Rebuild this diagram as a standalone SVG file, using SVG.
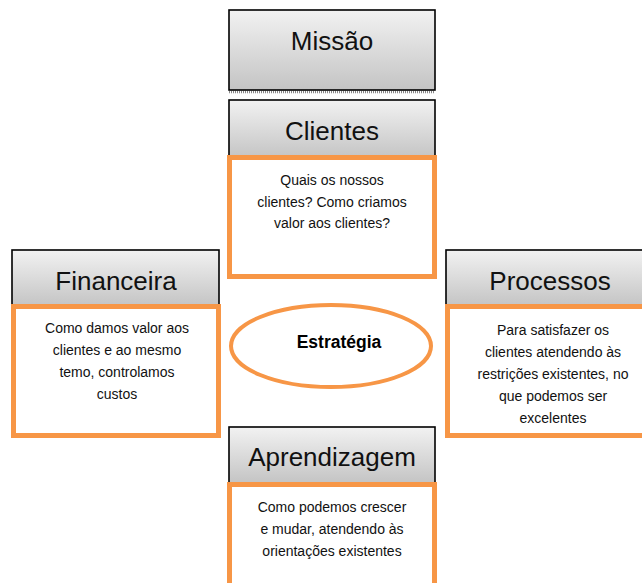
<svg xmlns="http://www.w3.org/2000/svg" width="642" height="583" viewBox="0 0 642 583">
<defs>
<linearGradient id="hg" x1="0" y1="0" x2="0" y2="1">
<stop offset="0" stop-color="#f2f2f2"/>
<stop offset="1" stop-color="#c4c4c4"/>
</linearGradient>
<style>
.hdr{fill:url(#hg);stroke:#000;stroke-width:1.6}
.box{fill:#fff;stroke:#F79646;stroke-width:5}
.ht{font-family:"Liberation Sans",Arial,sans-serif;font-size:26px;fill:#111;text-anchor:middle}
.bt{font-family:"Liberation Sans",Arial,sans-serif;font-size:14px;fill:#111;text-anchor:middle}
.st{font-family:"Liberation Sans",Arial,sans-serif;font-size:17.5px;font-weight:bold;fill:#000;text-anchor:middle}
</style>
</defs>
<rect width="642" height="583" fill="#fff"/>
<g id="missao">
<line x1="229" y1="92" x2="435" y2="92" stroke="#888" stroke-width="2.5" stroke-dasharray="1 1"/>
<rect class="hdr" x="229" y="10" width="206" height="80"/>
<text class="ht" x="332" y="50">Missão</text>
</g>
<g id="clientes">
<rect class="hdr" x="229" y="100" width="206" height="58"/>
<text class="ht" x="332" y="140">Clientes</text>
<rect class="box" x="229.5" y="157.5" width="205" height="119"/>
<text class="bt" x="332" y="185">Quais os nossos</text>
<text class="bt" x="332" y="207">clientes? Como criamos</text>
<text class="bt" x="332" y="228">valor aos clientes?</text>
</g>
<g id="financeira">
<rect class="hdr" x="12" y="250" width="207" height="56"/>
<text class="ht" x="116" y="290">Financeira</text>
<rect class="box" x="13.5" y="306.5" width="205" height="129"/>
<text class="bt" x="117" y="333">Como damos valor aos</text>
<text class="bt" x="117" y="355">clientes e ao mesmo</text>
<text class="bt" x="117" y="377">temo, controlamos</text>
<text class="bt" x="117" y="399">custos</text>
</g>
<g id="processos">
<rect class="hdr" x="446" y="250" width="200" height="56"/>
<text class="ht" x="550" y="290">Processos</text>
<rect class="box" x="447.5" y="306.5" width="198" height="129"/>
<text class="bt" x="553" y="335">Para satisfazer os</text>
<text class="bt" x="553" y="357">clientes atendendo às</text>
<text class="bt" x="553" y="379">restrições existentes, no</text>
<text class="bt" x="553" y="401">que podemos ser</text>
<text class="bt" x="553" y="423">excelentes</text>
</g>
<g id="aprendizagem">
<rect class="hdr" x="229" y="427" width="206" height="56"/>
<text class="ht" x="332" y="466">Aprendizagem</text>
<rect class="box" x="229.5" y="484.5" width="205" height="110"/>
<text class="bt" x="332" y="512">Como podemos crescer</text>
<text class="bt" x="332" y="534">e mudar, atendendo às</text>
<text class="bt" x="332" y="556">orientações existentes</text>
</g>
<g id="estrategia">
<ellipse cx="331" cy="346" rx="100" ry="41" fill="#fff" stroke="#F79646" stroke-width="4"/>
<text class="st" x="339" y="348">Estratégia</text>
</g>
<g id="connectors"></g>
</svg>
